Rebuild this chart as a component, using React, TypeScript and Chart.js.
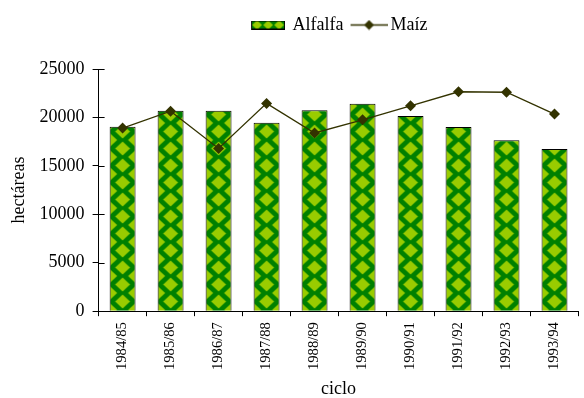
import React, { useEffect, useRef } from "react";
import { Chart, registerables } from "chart.js";

Chart.register(...registerables);

// Superficie sembrada por ciclo agrícola (hectáreas)
const ciclos = [
  "1984/85", "1985/86", "1986/87", "1987/88", "1988/89",
  "1989/90", "1990/91", "1991/92", "1992/93", "1993/94",
];
const alfalfa = [19050, 20700, 20700, 19450, 20750, 21400, 20150, 19000, 17650, 16750];
const maiz = [18900, 20650, 16800, 21450, 18400, 19750, 21200, 22650, 22600, 20350];
const yTickValues = [0, 5000, 10000, 15000, 20000, 25000];

const SERIF = "'Liberation Serif', 'Times New Roman', serif";
const GREEN = "#008000";
const LIME = "#99cc00";
const OLIVE = "#333300";
const TILE_W = 26;
const TILE_H = 17;

function diamond(ctx: CanvasRenderingContext2D, cx: number, cy: number, hw: number, hh: number) {
  ctx.beginPath();
  ctx.moveTo(cx - hw, cy);
  ctx.lineTo(cx, cy - hh);
  ctx.lineTo(cx + hw, cy);
  ctx.lineTo(cx, cy + hh);
  ctx.closePath();
  ctx.fill();
}

// Diamond tile: lime diamonds on green, one in the middle and quarters at the corners
function makeTile(): HTMLCanvasElement {
  const c = document.createElement("canvas");
  c.width = TILE_W;
  c.height = TILE_H;
  const g = c.getContext("2d")!;
  g.fillStyle = GREEN;
  g.fillRect(0, 0, TILE_W, TILE_H);
  g.fillStyle = LIME;
  const hw = 7.5;
  const hh = 7;
  diamond(g, TILE_W / 2, TILE_H / 2, hw, hh);
  for (const [x, y] of [[0, 0], [TILE_W, 0], [0, TILE_H], [TILE_W, TILE_H]]) {
    diamond(g, x, y, hw, hh);
  }
  return c;
}

// Legend swatch for the bar series (left margin keeps the box in place)
function makeBarSwatch(): HTMLCanvasElement {
  const c = document.createElement("canvas");
  c.width = 37;
  c.height = 9;
  const g = c.getContext("2d")!;
  g.translate(3, 0);
  g.fillStyle = GREEN;
  g.fillRect(0, 0, 34, 9);
  g.fillStyle = LIME;
  for (const x of [6, 17, 28]) diamond(g, x, 4.5, 5, 4.5);
  g.strokeStyle = "#000";
  g.lineWidth = 1;
  g.strokeRect(0.5, 0.5, 33, 8);
  return c;
}

// Legend swatch for the line series: segment with a diamond marker
function makeLineSwatch(): HTMLCanvasElement {
  const c = document.createElement("canvas");
  c.width = 46;
  c.height = 11;
  const g = c.getContext("2d")!;
  g.translate(9, 0);
  g.strokeStyle = OLIVE;
  g.lineWidth = 1.5;
  g.beginPath();
  g.moveTo(0, 5.5);
  g.lineTo(37, 5.5);
  g.stroke();
  g.fillStyle = OLIVE;
  diamond(g, 18.5, 5.5, 5, 5);
  return c;
}

// Short tick marks on the inner side of the value axis
const innerTicks = {
  id: "innerTicks",
  afterDraw(chart: any) {
    const y = chart.scales.y;
    const left = chart.chartArea.left;
    const ctx = chart.ctx;
    ctx.save();
    ctx.strokeStyle = "#000";
    ctx.lineWidth = 1;
    y.ticks.forEach((t: any) => {
      const py = Math.round(y.getPixelForValue(t.value)) + 0.5;
      ctx.beginPath();
      ctx.moveTo(left, py);
      ctx.lineTo(left + 6, py);
      ctx.stroke();
    });
    ctx.restore();
  },
};

export default function App() {
  const ref = useRef<HTMLCanvasElement | null>(null);

  useEffect(() => {
    const canvas = ref.current;
    if (!canvas) return;
    const tile = makeTile();
    const ctx2d = canvas.getContext("2d")!;
    const basePattern = ctx2d.createPattern(tile, "repeat")!;
    const barSwatch = makeBarSwatch();
    const lineSwatch = makeLineSwatch();

    const barFill = (c: any) => {
      if (c.type !== "data") return basePattern;
      const cx = c.chart.scales.x?.getPixelForValue(c.dataIndex);
      if (!Number.isFinite(cx)) return basePattern;
      const p = ctx2d.createPattern(tile, "repeat")!;
      p.setTransform(new DOMMatrix().translate(cx - TILE_W / 2, 4));
      return p;
    };

    const chart = new Chart(canvas, {
      type: "bar",
      data: {
        labels: ciclos,
        datasets: [
          {
            type: "bar",
            label: "Alfalfa",
            data: alfalfa,
            backgroundColor: barFill as any,
            borderColor: "#000",
            borderWidth: 1,
            barPercentage: 0.54,
            categoryPercentage: 1,
            order: 2,
          },
          {
            type: "line",
            label: "Maíz",
            data: maiz,
            borderColor: OLIVE,
            borderWidth: 1.3,
            backgroundColor: OLIVE,
            pointStyle: "rectRot",
            pointRadius: 5.5,
            pointBorderWidth: 0,
            pointBackgroundColor: OLIVE,
            tension: 0,
            order: 1,
          },
        ],
      },
      options: {
        animation: false,
        responsive: false,
        layout: { padding: { top: 12, left: 4, right: 1, bottom: 0 } },
        plugins: {
          tooltip: { enabled: false },
          legend: {
            position: "top",
            fullSize: false,
            labels: {
              usePointStyle: true,
              pointStyleWidth: 34,
              padding: 4,
              color: "#000",
              font: { family: SERIF, size: 18 },
              generateLabels: () => [
                { text: "Alfalfa", pointStyle: barSwatch as any, rotation: 0, datasetIndex: 0, fontColor: "#000", lineWidth: 0, hidden: false },
                { text: "Maíz", pointStyle: lineSwatch as any, rotation: 0, datasetIndex: 1, fontColor: "#000", lineWidth: 0, hidden: false },
              ],
            },
          },
          // empty spacer block between the legend and the plot
          title: {
            display: true,
            text: "",
            position: "top",
            weight: 500,
            fullSize: false,
            padding: 0,
            font: { size: 25, lineHeight: 1 },
          } as any,
        },
        scales: {
          x: {
            offset: true,
            grid: {
              display: true,
              offset: true,
              drawOnChartArea: false,
              drawTicks: true,
              tickLength: 5,
              color: "#000",
            },
            border: { display: true, color: "#000", width: 1 },
            ticks: {
              autoSkip: false,
              minRotation: 90,
              maxRotation: 90,
              padding: 6,
              color: "#000",
              font: { family: SERIF, size: 14.6 },
            },
            title: {
              display: true,
              text: "ciclo",
              color: "#000",
              font: { family: SERIF, size: 18, lineHeight: 1 },
              padding: { top: 4, bottom: 0 },
            },
          },
          y: {
            min: 0,
            max: 25000,
            afterBuildTicks: (scale: any) => {
              scale.ticks = yTickValues.map((v) => ({ value: v }));
            },
            grid: {
              display: true,
              drawOnChartArea: false,
              drawTicks: true,
              tickLength: 6,
              color: "#000",
            },
            border: { display: true, color: "#000", width: 1 },
            ticks: {
              padding: 8,
              color: "#000",
              font: { family: SERIF, size: 18 },
              callback: (v: any) => String(v),
            },
            title: {
              display: true,
              text: "hectáreas",
              color: "#000",
              font: { family: SERIF, size: 18 },
              padding: { top: 4, bottom: 2 },
            },
          },
        },
      },
      plugins: [innerTicks],
    });

    return () => chart.destroy();
  }, []);

  return (
    <div style={{ position: "fixed", left: 0, top: 0, width: 584, height: 398, background: "#fff" }}>
      <canvas ref={ref} width={584} height={398} style={{ width: 584, height: 398, display: "block" }} />
    </div>
  );
}
